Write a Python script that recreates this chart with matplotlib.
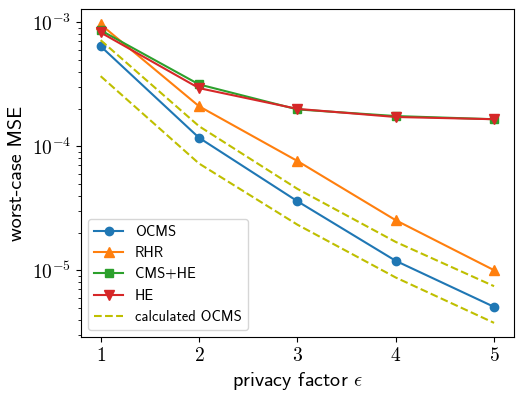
import matplotlib
matplotlib.use("Agg")
import numpy as np
import matplotlib.pyplot as plt
from matplotlib.ticker import FuncFormatter, FixedLocator, NullFormatter

plt.rcParams['mathtext.fontset'] = 'cm'
plt.rcParams['font.family'] = ['cmss10', 'DejaVu Sans']

eps = [1, 2, 3, 4, 5]
ocms = [6.4e-4, 1.17e-4, 3.6e-5, 1.19e-5, 5.06e-6]
rhr = [9.6e-4, 2.1e-4, 7.6e-5, 2.53e-5, 1.0e-5]
cms_he = [8.6e-4, 3.15e-4, 1.98e-4, 1.75e-4, 1.65e-4]
he = [8.26e-4, 2.94e-4, 2.0e-4, 1.72e-4, 1.65e-4]
calc_upper = [7.16e-4, 1.45e-4, 4.53e-5, 1.69e-5, 7.43e-6]
calc_lower = [3.67e-4, 7.25e-5, 2.33e-5, 8.73e-6, 3.76e-6]

fig = plt.figure(figsize=(5.31, 3.99), dpi=100)
ax = fig.add_axes([0.1525, 0.155, 0.815, 0.822])

ax.plot(eps, ocms, '-o', color='#1f77b4', label='OCMS', lw=1.5, ms=6)
ax.plot(eps, rhr, '-^', color='#ff7f0e', label='RHR', lw=1.5, ms=6.5)
ax.plot(eps, cms_he, '-s', color='#2ca02c', label='CMS+HE', lw=1.5, ms=6)
ax.plot(eps, he, '-v', color='#d62728', label='HE', lw=1.5, ms=6.5)
ax.plot(eps, calc_upper, '--', color='y', label='calculated OCMS', lw=1.5)
ax.plot(eps, calc_lower, '--', color='y', lw=1.5)

ax.set_yscale('log')
ax.set_xlim(0.8, 5.2)
ax.set_ylim(10**-5.54, 10**-2.895)
ax.xaxis.set_major_locator(FixedLocator(eps))
ax.xaxis.set_major_formatter(FuncFormatter(lambda v, p: f'${v:g}$'))
ax.yaxis.set_major_formatter(FuncFormatter(
    lambda v, p: f'$10^{{{int(round(np.log10(v)))}}}$'))
ax.yaxis.set_minor_formatter(NullFormatter())
ax.tick_params(labelsize=14)

ax.set_xlabel(r'privacy factor $\epsilon$', fontsize=14.5)
ax.set_ylabel('worst-case MSE', fontsize=14.5)
ax.legend(loc='lower left', fontsize=10.5)

fig.savefig('out.png', dpi=100)
